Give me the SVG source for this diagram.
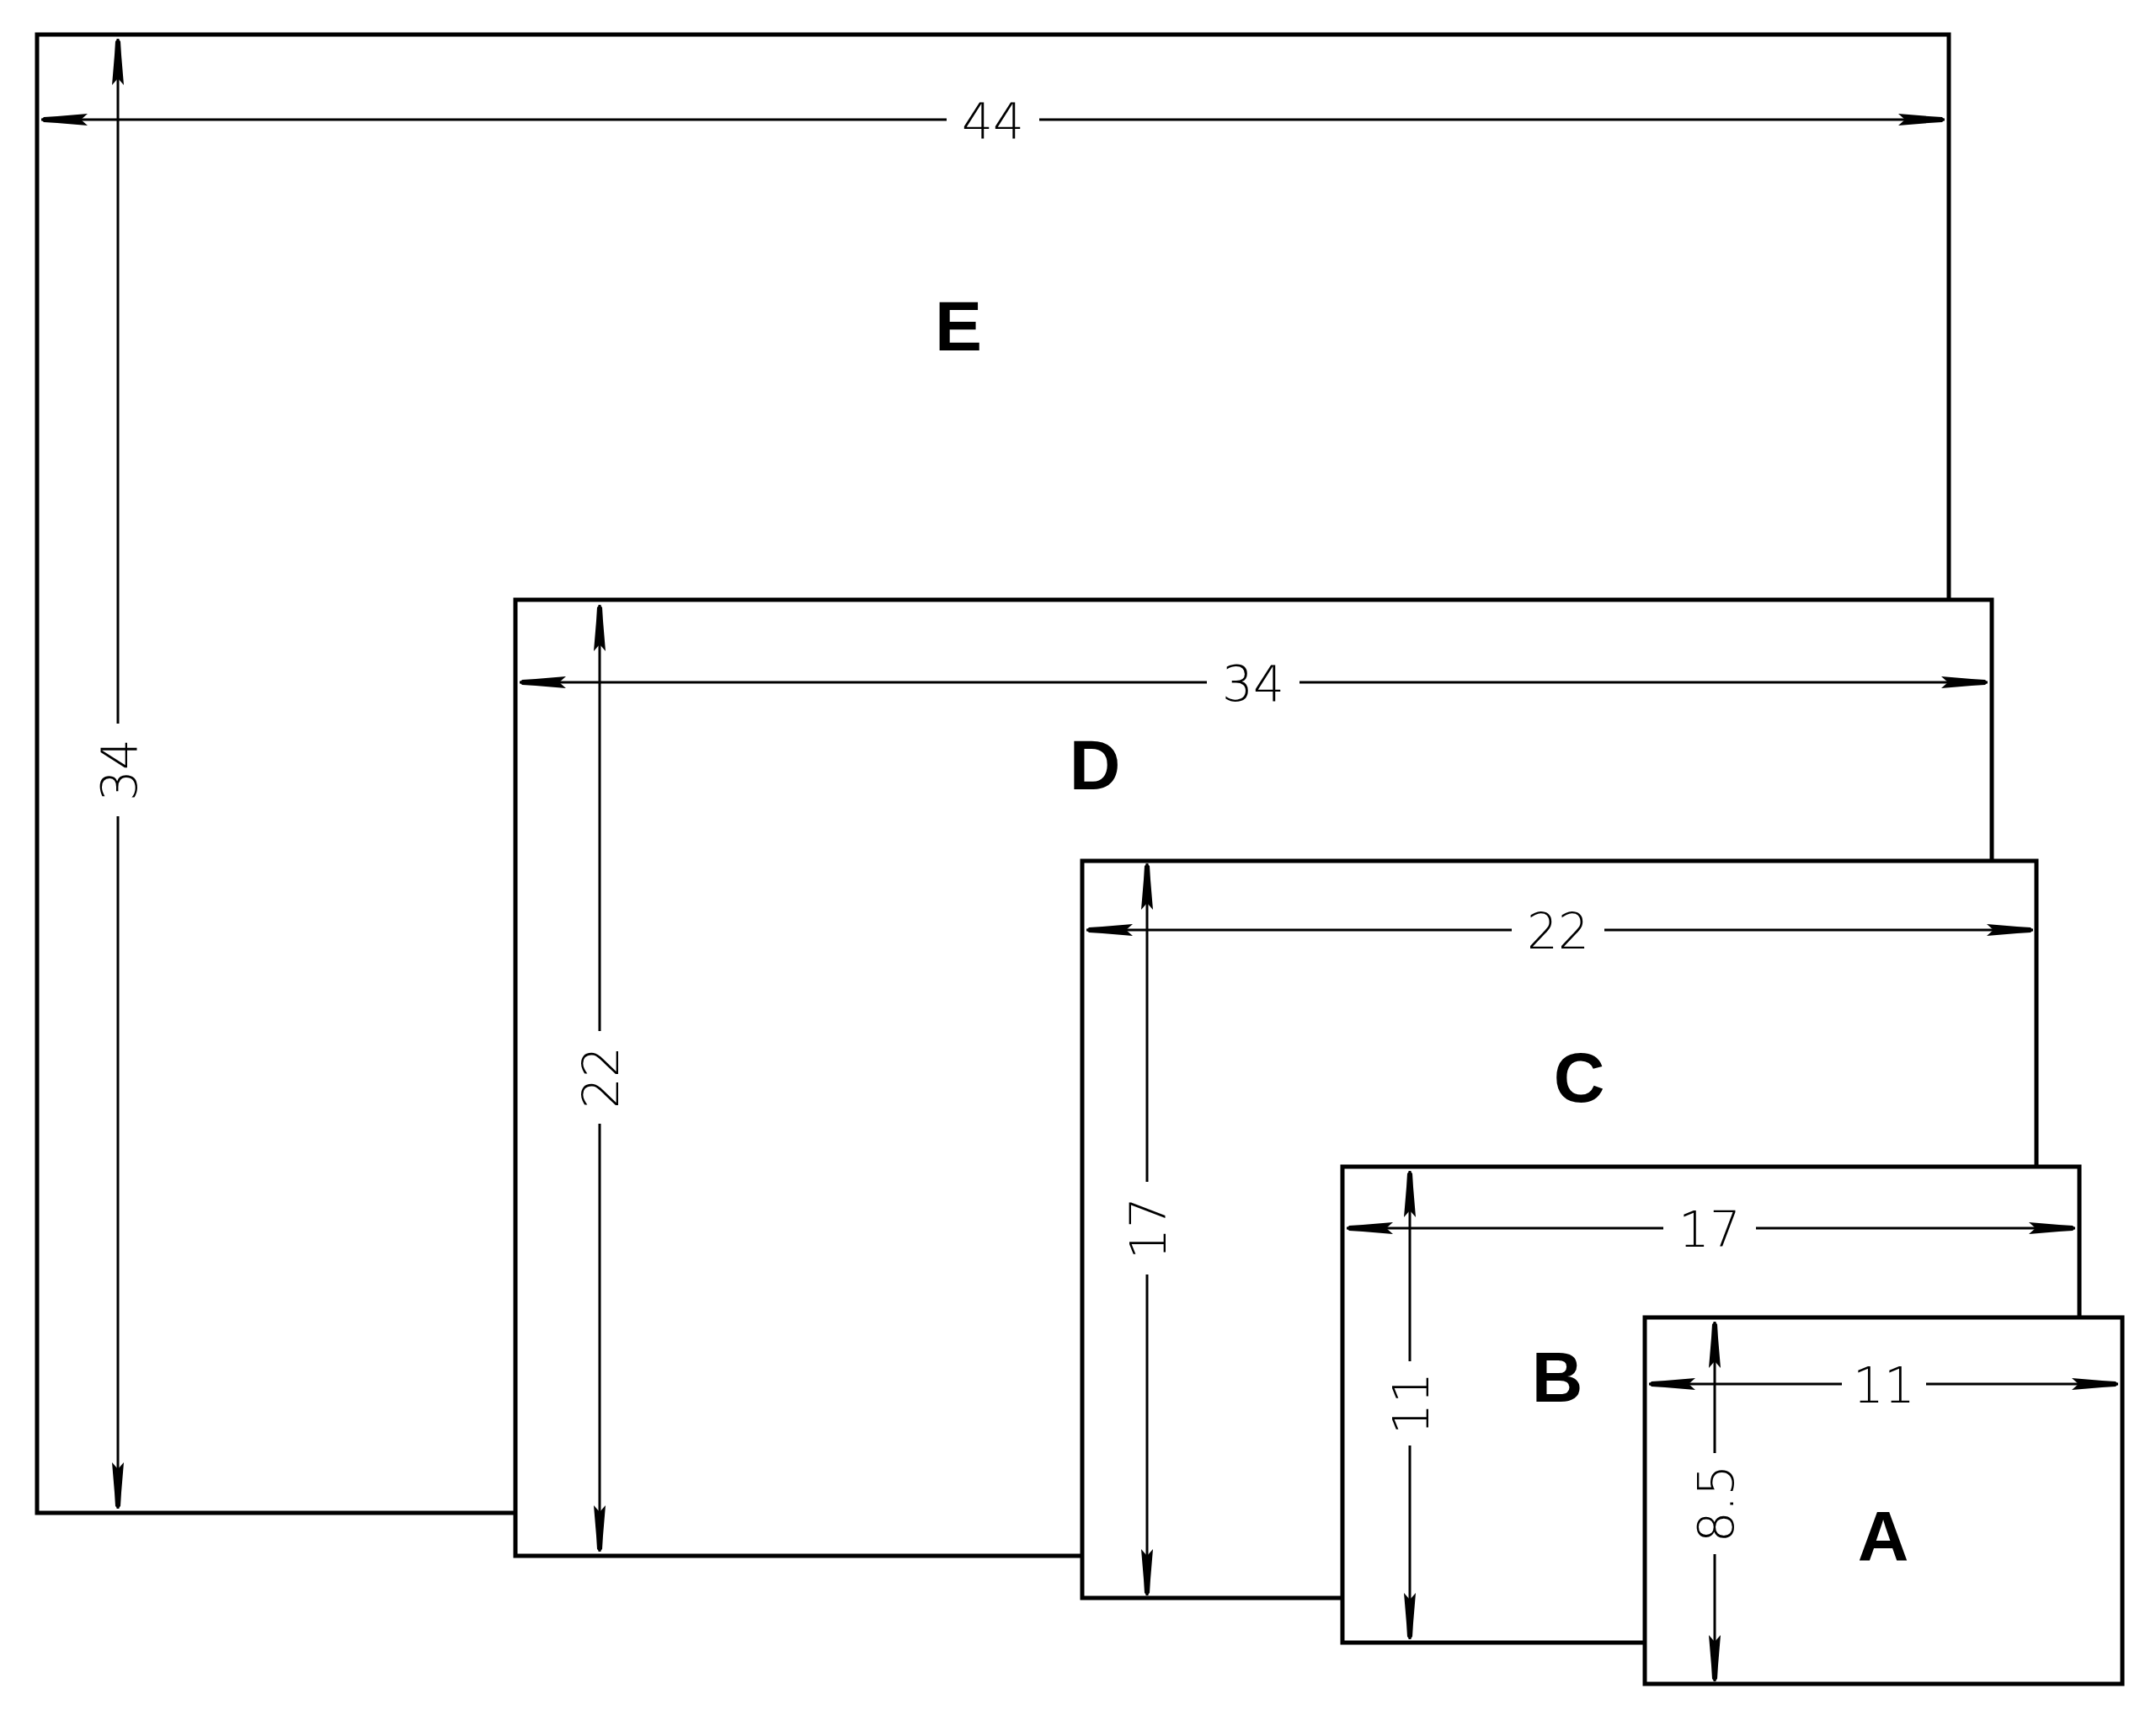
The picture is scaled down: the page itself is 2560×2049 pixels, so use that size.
<svg xmlns="http://www.w3.org/2000/svg" width="2560" height="2049" viewBox="0 0 2560 2049">
<style>
.sheet{fill:#fff;stroke:#000;stroke-width:5}
.dim{stroke:#000;stroke-width:3;fill:none;marker-start:url(#ah);marker-end:url(#ah)}
.lbl{font-family:"DejaVu Sans","Liberation Sans",sans-serif;font-size:58px;font-weight:300;text-anchor:middle;dominant-baseline:central}
.big{font-family:"Liberation Sans",sans-serif;font-size:84px;font-weight:bold;text-anchor:middle;dominant-baseline:central}
.gap{fill:#fff}
</style>
<defs>
<marker id="ah" viewBox="0 0 55 22" refX="55" refY="11" markerWidth="55" markerHeight="22" markerUnits="userSpaceOnUse" orient="auto-start-reverse">
<path d="M0,4 L36,7 L52,8 L55,11 L52,14 L36,15 L0,18 L8,11 Z" fill="#000"/>
</marker>
</defs>
<rect width="2560" height="2049" fill="#fff"/>
<g id="E"><rect class="sheet" x="44" y="41" width="2270" height="1755"/></g>
<g id="D"><rect class="sheet" x="612" y="712" width="1753" height="1135"/></g>
<g id="C"><rect class="sheet" x="1285" y="1022" width="1133" height="875"/></g>
<g id="B"><rect class="sheet" x="1594" y="1385" width="875" height="565"/></g>
<g id="A"><rect class="sheet" x="1953" y="1564" width="567" height="435"/></g>
<g id="connectors">
<line class="dim" x1="49" y1="142" x2="2309" y2="142"/>
<line class="dim" x1="140" y1="46" x2="140" y2="1791"/>
<line class="dim" x1="617" y1="810" x2="2360" y2="810"/>
<line class="dim" x1="712" y1="718" x2="712" y2="1842"/>
<line class="dim" x1="1290" y1="1104" x2="2414" y2="1104"/>
<line class="dim" x1="1362" y1="1025" x2="1362" y2="1894"/>
<line class="dim" x1="1599" y1="1458" x2="2464" y2="1458"/>
<line class="dim" x1="1674" y1="1390" x2="1674" y2="1946"/>
<line class="dim" x1="1958" y1="1643" x2="2515" y2="1643"/>
<line class="dim" x1="2036" y1="1569" x2="2036" y2="1996"/>
</g>
<g id="labels">
<rect class="gap" x="1124" y="112" width="110" height="60"/><text class="lbl" x="1179" y="144">44</text>
<rect class="gap" x="110" y="859" width="60" height="110"/><text class="lbl" transform="translate(142,914) rotate(-90)">34</text>
<rect class="gap" x="1433" y="780" width="110" height="60"/><text class="lbl" x="1488" y="812">34</text>
<rect class="gap" x="682" y="1224" width="60" height="110"/><text class="lbl" transform="translate(714,1279) rotate(-90)">22</text>
<rect class="gap" x="1795" y="1074" width="110" height="60"/><text class="lbl" x="1850" y="1106">22</text>
<rect class="gap" x="1332" y="1403" width="60" height="110"/><text class="lbl" transform="translate(1364,1458) rotate(-90)">17</text>
<rect class="gap" x="1975" y="1428" width="110" height="60"/><text class="lbl" x="2030" y="1460">17</text>
<rect class="gap" x="1644" y="1616" width="60" height="100"/><text class="lbl" transform="translate(1676,1666) rotate(-90)">11</text>
<rect class="gap" x="2187" y="1613" width="100" height="60"/><text class="lbl" x="2237" y="1645">11</text>
<rect class="gap" x="2006" y="1725" width="60" height="120"/><text class="lbl" transform="translate(2038,1785) rotate(-90)">8.5</text>
<text class="big" x="1138" y="387">E</text>
<text class="big" x="1300" y="908">D</text>
<text class="big" x="1875" y="1279">C</text>
<text class="big" x="1849" y="1635">B</text>
<text class="big" x="2236" y="1824">A</text>
</g>
</svg>
